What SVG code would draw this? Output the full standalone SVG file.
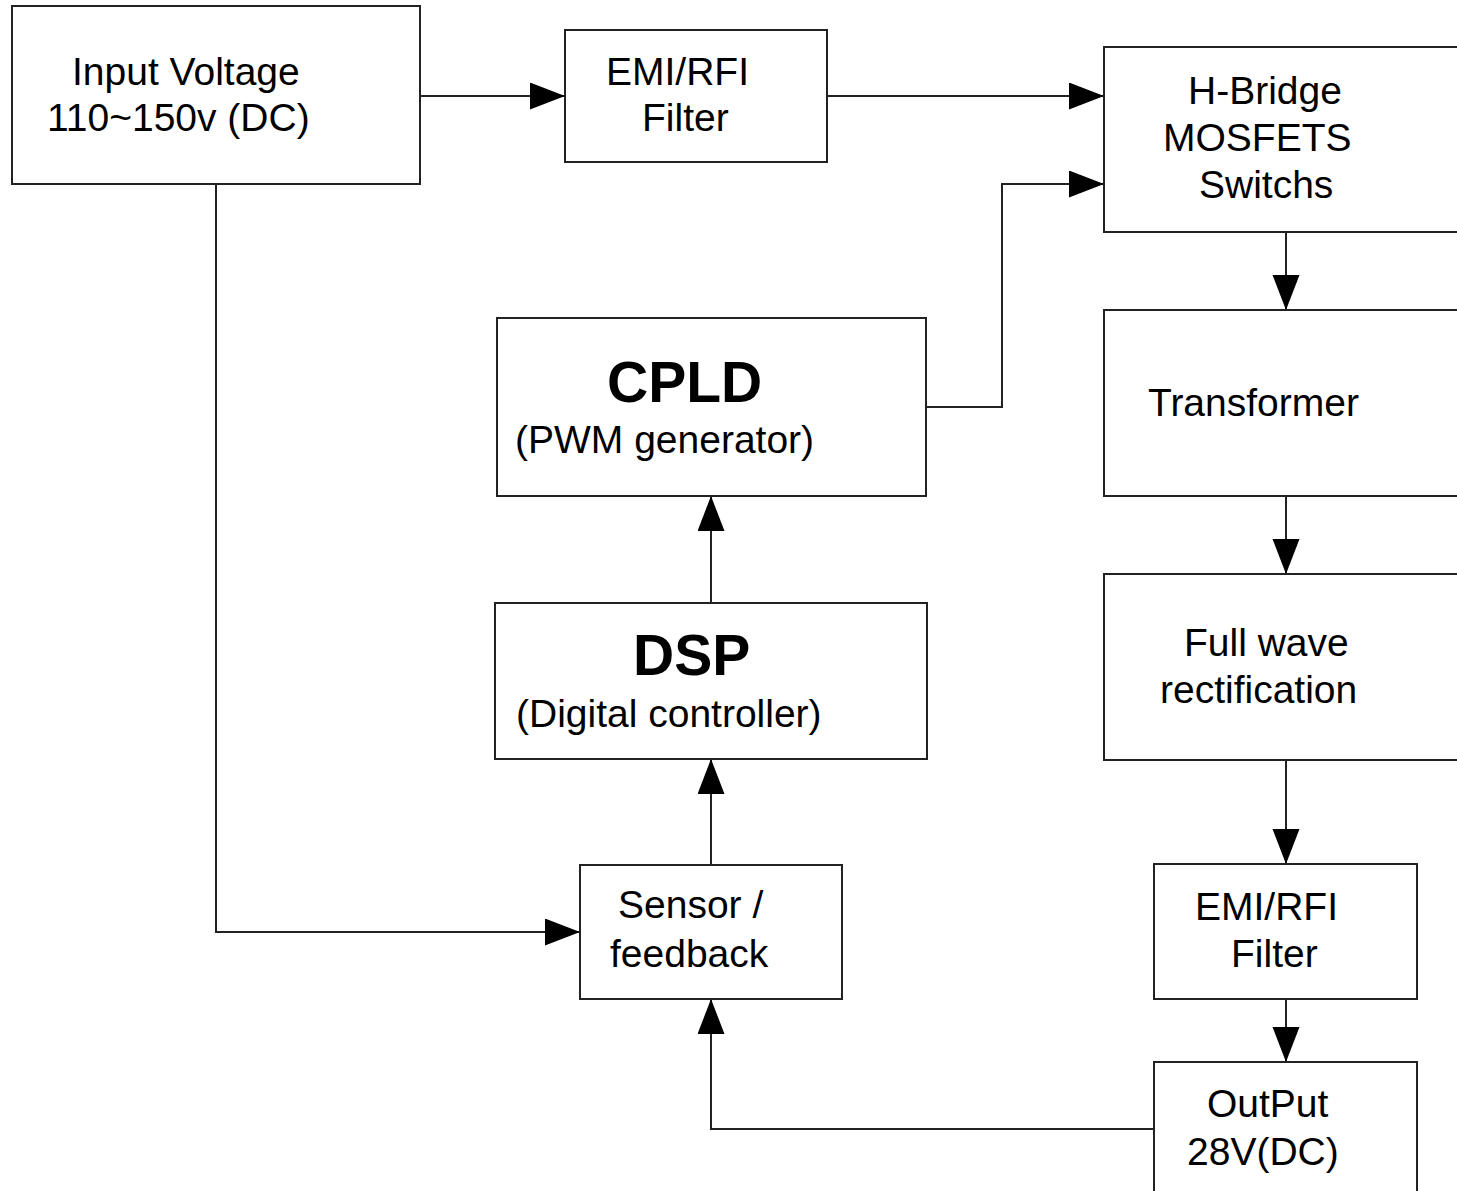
<svg xmlns="http://www.w3.org/2000/svg" width="1457" height="1191" viewBox="0 0 1457 1191">
  <style>
    .box { fill: #ffffff; stroke: #222222; stroke-width: 2; }
    .wire { fill: none; stroke: #222222; stroke-width: 2; }
    .lbl { font-family: "Liberation Sans", Arial, sans-serif; font-size: 39px; fill: #000000; }
    .big { font-family: "Liberation Sans", Arial, sans-serif; font-size: 57px; font-weight: bold; fill: #000000; }
  </style>
  <defs>
    <marker id="arrow" markerUnits="userSpaceOnUse" markerWidth="36" markerHeight="28" refX="35" refY="13.5" orient="auto">
      <path d="M0,0 L35,13.5 L0,27 Z" fill="#000000"/>
    </marker>
  </defs>
  <rect width="1457" height="1191" fill="#ffffff"/>

  <!-- connectors -->
  <g id="connectors">
    <path class="wire" d="M420,96 H565" marker-end="url(#arrow)"/>
    <path class="wire" d="M827,96 H1104" marker-end="url(#arrow)"/>
    <path class="wire" d="M926,407 H1002 V184 H1104" marker-end="url(#arrow)"/>
    <path class="wire" d="M1286,232 V310" marker-end="url(#arrow)"/>
    <path class="wire" d="M1286,496 V574" marker-end="url(#arrow)"/>
    <path class="wire" d="M1286,760 V864" marker-end="url(#arrow)"/>
    <path class="wire" d="M1286,999 V1062" marker-end="url(#arrow)"/>
    <path class="wire" d="M216,184 V932 H580" marker-end="url(#arrow)"/>
    <path class="wire" d="M711,865 V759" marker-end="url(#arrow)"/>
    <path class="wire" d="M711,603 V496" marker-end="url(#arrow)"/>
    <path class="wire" d="M1154,1129 H711 V999" marker-end="url(#arrow)"/>
  </g>

  <!-- blocks -->
  <g id="input">
    <rect class="box" x="12" y="6" width="408" height="178"/>
    <text class="lbl" x="72" y="85">Input Voltage</text>
    <text class="lbl" x="47" y="131">110~150v (DC)</text>
  </g>
  <g id="emi-in">
    <rect class="box" x="565" y="30" width="262" height="132"/>
    <text class="lbl" x="606" y="85">EMI/RFI</text>
    <text class="lbl" x="642" y="131">Filter</text>
  </g>
  <g id="hbridge">
    <rect class="box" x="1104" y="47" width="370" height="185"/>
    <text class="lbl" x="1188" y="104">H-Bridge</text>
    <text class="lbl" x="1163" y="151">MOSFETS</text>
    <text class="lbl" x="1199" y="198">Switchs</text>
  </g>
  <g id="transformer">
    <rect class="box" x="1104" y="310" width="370" height="186"/>
    <text class="lbl" x="1148" y="416">Transformer</text>
  </g>
  <g id="rectifier">
    <rect class="box" x="1104" y="574" width="370" height="186"/>
    <text class="lbl" x="1184" y="656">Full wave</text>
    <text class="lbl" x="1160" y="703">rectification</text>
  </g>
  <g id="emi-out">
    <rect class="box" x="1154" y="864" width="263" height="135"/>
    <text class="lbl" x="1195" y="920">EMI/RFI</text>
    <text class="lbl" x="1231" y="967">Filter</text>
  </g>
  <g id="output">
    <rect class="box" x="1154" y="1062" width="263" height="140"/>
    <text class="lbl" x="1207" y="1117">OutPut</text>
    <text class="lbl" x="1187" y="1165">28V(DC)</text>
  </g>
  <g id="cpld">
    <rect class="box" x="497" y="318" width="429" height="178"/>
    <text class="big" x="607" y="402">CPLD</text>
    <text class="lbl" x="515" y="453">(PWM generator)</text>
  </g>
  <g id="dsp">
    <rect class="box" x="495" y="603" width="432" height="156"/>
    <text class="big" x="633" y="675">DSP</text>
    <text class="lbl" x="516" y="727">(Digital controller)</text>
  </g>
  <g id="sensor">
    <rect class="box" x="580" y="865" width="262" height="134"/>
    <text class="lbl" x="618" y="918">Sensor /</text>
    <text class="lbl" x="610" y="967">feedback</text>
  </g>
</svg>
